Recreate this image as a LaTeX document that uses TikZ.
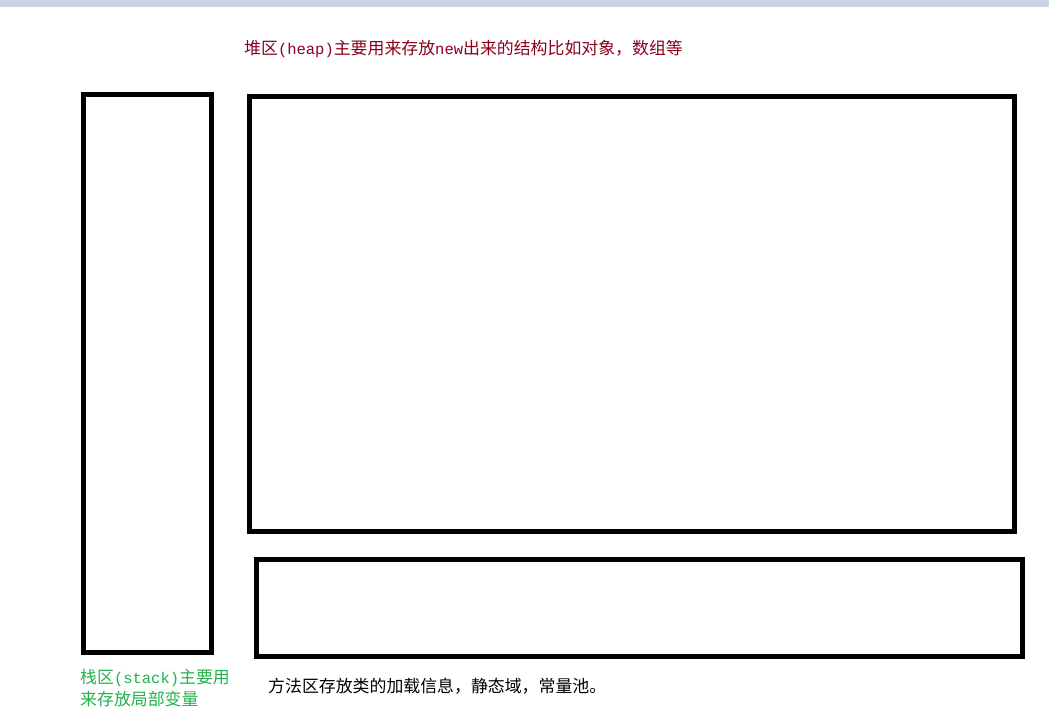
\documentclass[tikz,border=0pt]{standalone}
\usepackage{fontspec}
\newfontfamily\cjk{Noto Sans CJK SC}
\newfontfamily\latmono{Liberation Mono}
\newcommand\half[1]{{\latmono\fontsize{15.5}{22}\selectfont #1}}
\definecolor{heapred}{RGB}{140,0,30}
\definecolor{stackgreen}{RGB}{34,177,76}
\definecolor{barblue}{RGB}{201,211,225}
\tikzset{
  area/.style={draw,line width=5pt,rectangle,inner sep=0pt},
  note/.style={font=\cjk\fontsize{16.9}{22}\selectfont,inner sep=0pt,align=left}
}
\begin{document}
\begin{tikzpicture}[x=1pt,y=-1pt]
  \useasboundingbox (0,0) rectangle (1049,714);
  \fill[barblue] (0,0.5) rectangle (1049,7);
  % memory areas
  \node[area,minimum width=128.5pt,minimum height=558pt](stack) at (147.25,373.5){};
  \node[area,minimum width=764.5pt,minimum height=434.5pt](heap) at (631.75,313.75){};
  \node[area,minimum width=766pt,minimum height=97.5pt](method) at (639.5,607.75){};
  % notes
  \node[note,text=heapred,anchor=west](heapnote) at (244,49)
    {堆区\half{(heap)}主要用来存放\half{new}出来的结构比如对象，数组等};
  \node[note,text=stackgreen,anchor=west](stacknote) at (80,688)
    {栈区\half{(stack)}主要用\\来存放局部变量};
  \node[note,anchor=west](methodnote) at (268,686)
    {方法区存放类的加载信息，静态域，常量池。};
\end{tikzpicture}
\end{document}
